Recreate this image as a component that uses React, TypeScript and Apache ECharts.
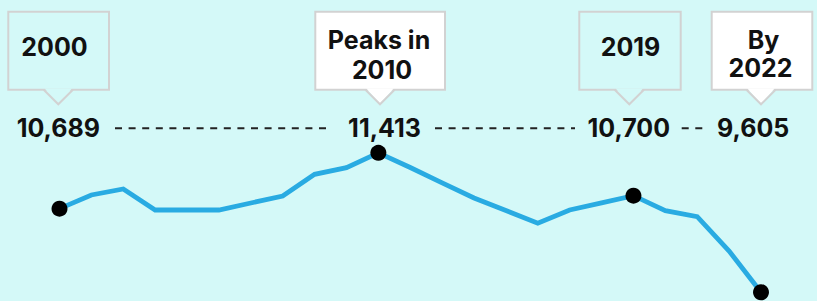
import React, { useEffect, useRef } from "react";
import * as echarts from "echarts";

// ---- data ----
const years: string[] = [
  "2000", "2001", "2002", "2003", "2004", "2005", "2006", "2007", "2008", "2009", "2010",
  "2011", "2012", "2013", "2014", "2015", "2016", "2017", "2018", "2019", "2020", "2021", "2022",
];
const values: number[] = [
  10689, 10866, 10944, 10671, 10671, 10671, 10762, 10853, 11134, 11220, 11413,
  11222, 11024, 10827, 10665, 10499, 10671, 10763, 10857, 10662, 10584, 10139, 9605,
];
const markedIndex: number[] = [0, 10, 18, 22];
const calloutLines: string[][] = [["2000"], ["Peaks in", "2010"], ["2019"], ["By", "2022"]];
const valueLabels: string[] = ["10,689", "11,413", "10,700", "9,605"];

// ---- layout ----
const BG = "#d4f9f8";
const LINE = "#29abe2";
const BORDER = "#d2d2d2";
const FONT = "Inter, 'DejaVu Sans', sans-serif";
const boxTop = 10.7;
const boxBottom = 90.7;
const tipY = 105.3;
const boxes = [
  { l: 7.3, r: 110, tip: 58.3, fill: BG, tx: [54.5], ty: [47] },
  { l: 314.3, r: 446, tip: 380, fill: "#ffffff", tx: [379, 382], ty: [40, 69.5] },
  { l: 578.3, r: 681.7, tip: 629.3, fill: BG, tx: [630.5], ty: [47] },
  { l: 710.7, r: 813.3, tip: 761, fill: "#ffffff", tx: [763.5, 760.5], ty: [39.5, 68] },
];
const labelX = [58.3, 384.5, 628.8, 753.2];
const labelY = 128;
const dashSegs = [
  [115, 330],
  [435, 575],
  [681.7, 705],
];

export default function App() {
  const ref = useRef<HTMLDivElement>(null);
  useEffect(() => {
    if (!ref.current) return;
    const chart = echarts.init(ref.current, undefined, { renderer: "svg" });
    const graphic: any[] = [];
    boxes.forEach((b, i) => {
      const half = 14.6;
      graphic.push({
        type: "rect",
        shape: { x: b.l + 1, y: boxTop + 1, width: b.r - b.l - 2, height: boxBottom - boxTop - 2 },
        style: { fill: b.fill, stroke: BORDER, lineWidth: 2 },
        z: 10,
      });
      graphic.push({
        type: "polygon",
        shape: { points: [[b.tip - half + 1, boxBottom - 2.2], [b.tip + half - 1, boxBottom - 2.2], [b.tip, tipY - 1.5]] },
        style: { fill: b.fill },
        z: 11,
      });
      graphic.push({
        type: "polyline",
        shape: { points: [[b.tip - half, boxBottom - 1], [b.tip, tipY - 1], [b.tip + half, boxBottom - 1]] },
        style: { stroke: BORDER, lineWidth: 2, fill: null },
        z: 12,
      });
      calloutLines[i].forEach((t, j) => {
        graphic.push({
          type: "text",
          x: b.tx[j],
          y: b.ty[j],
          style: {
            text: t,
            font: `bold 25px ${FONT}`,
            fill: "#111111",
            textAlign: "center",
            textVerticalAlign: "middle",
          },
          z: 13,
        });
      });
    });
    valueLabels.forEach((t, i) => {
      graphic.push({
        type: "text",
        x: labelX[i],
        y: labelY,
        style: {
          text: t,
          font: `bold 25px ${FONT}`,
          fill: "#111111",
          textAlign: "center",
          textVerticalAlign: "middle",
        },
        z: 13,
      });
    });
    dashSegs.forEach((s) => {
      graphic.push({
        type: "line",
        shape: { x1: s[0], y1: 128.3, x2: s[1], y2: 128.3 },
        style: { stroke: "#222222", lineWidth: 2, lineDash: [7, 6.6] },
        z: 13,
      });
    });

    chart.setOption({
      animation: false,
      backgroundColor: BG,
      grid: { left: 59.5, right: 56, top: 138, bottom: 0 },
      xAxis: {
        type: "category",
        data: years,
        boundaryGap: false,
        show: false,
      },
      yAxis: {
        type: "value",
        min: 9491,
        max: 11605,
        show: false,
      },
      graphic,
      series: [
        {
          type: "line",
          data: values,
          showSymbol: false,
          clip: false,
          lineStyle: { color: LINE, width: 4.8, join: "miter" },
          z: 2,
        },
        {
          type: "scatter",
          data: markedIndex.map((i) => [i, values[i]]),
          symbolSize: 16,
          clip: false,
          itemStyle: { color: "#000000", opacity: 1 },
          z: 3,
        },
      ],
    });
    return () => chart.dispose();
  }, []);
  return (
    <div
      ref={ref}
      style={{ position: "absolute", left: 0, top: 0, width: 817, height: 301 }}
    />
  );
}
